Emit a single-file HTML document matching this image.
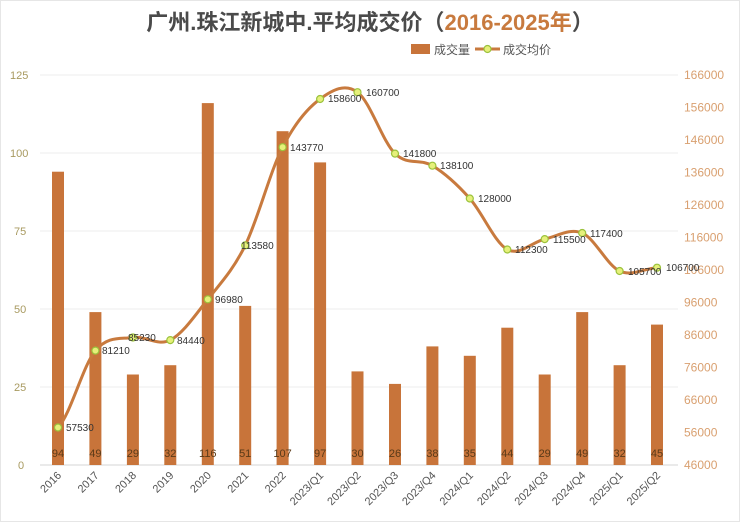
<!DOCTYPE html>
<html><head><meta charset="utf-8"><style>
html,body{margin:0;padding:0;background:#fff;}
svg{display:block;font-family:"Liberation Sans","Noto Sans CJK SC",sans-serif;}
</style></head><body>
<svg width="740" height="522" viewBox="0 0 740 522" xmlns="http://www.w3.org/2000/svg">
<rect x="0.5" y="0.5" width="739" height="521" fill="#fff" stroke="#e6e6e6"/>
<text x="370" y="30" text-anchor="middle" font-size="22" font-weight="bold" fill="#4a4a4a">广州.珠江新城中.平均成交价（<tspan fill="#c87a3e">2016-2025年</tspan>）</text>
<rect x="411" y="44" width="19" height="10" fill="#c8743a"/>
<text x="434" y="54" font-size="12" fill="#555">成交量</text>
<line x1="475" y1="49" x2="500" y2="49" stroke="#c87a3e" stroke-width="3"/>
<circle cx="487.5" cy="49" r="3.5" fill="#e6f07a" stroke="#9bc23c" stroke-width="1.2"/>
<text x="503" y="54" font-size="12" fill="#555">成交均价</text>
<g stroke="#ececec" stroke-width="1">
<line x1="40" y1="75" x2="678" y2="75"/><line x1="40" y1="153" x2="678" y2="153"/>
<line x1="40" y1="231" x2="678" y2="231"/><line x1="40" y1="309" x2="678" y2="309"/>
<line x1="40" y1="387" x2="678" y2="387"/>
</g>
<line x1="40" y1="465" x2="678" y2="465" stroke="#d6d6d6"/>
<g font-size="11" fill="#a89a60">
<text x="10" y="79">125</text><text x="10" y="157">100</text><text x="14" y="235">75</text>
<text x="14" y="313">50</text><text x="14" y="391">25</text><text x="18" y="469">0</text>
</g>
<g font-size="12" fill="#d9a070">
<text x="684" y="79">166000</text><text x="684" y="111.5">156000</text><text x="684" y="144">146000</text>
<text x="684" y="176.5">136000</text><text x="684" y="209">126000</text><text x="684" y="241.5">116000</text>
<text x="684" y="274">106000</text><text x="684" y="306.5">96000</text><text x="684" y="339">86000</text>
<text x="684" y="371.5">76000</text><text x="684" y="404">66000</text><text x="684" y="436.5">56000</text>
<text x="684" y="469">46000</text>
</g>
<g fill="#c8743a">
<rect x="52" y="171.7" width="12" height="293.3"/>
<rect x="89.4" y="312.1" width="12" height="152.9"/>
<rect x="126.9" y="374.5" width="12" height="90.5"/>
<rect x="164.3" y="365.2" width="12" height="99.8"/>
<rect x="201.8" y="103.1" width="12" height="361.9"/>
<rect x="239.2" y="305.9" width="12" height="159.1"/>
<rect x="276.6" y="131.2" width="12" height="333.8"/>
<rect x="314.1" y="162.4" width="12" height="302.6"/>
<rect x="351.5" y="371.4" width="12" height="93.6"/>
<rect x="389" y="383.9" width="12" height="81.1"/>
<rect x="426.4" y="346.4" width="12" height="118.6"/>
<rect x="463.8" y="355.8" width="12" height="109.2"/>
<rect x="501.3" y="327.7" width="12" height="137.3"/>
<rect x="538.7" y="374.5" width="12" height="90.5"/>
<rect x="576.2" y="312.1" width="12" height="152.9"/>
<rect x="613.6" y="365.2" width="12" height="99.8"/>
<rect x="651" y="324.6" width="12" height="140.4"/>
</g>
<g font-size="11" fill="#5a3a18" text-anchor="middle">
<text x="58" y="457">94</text><text x="95.4" y="457">49</text><text x="132.9" y="457">29</text>
<text x="170.3" y="457">32</text><text x="207.8" y="457">116</text><text x="245.2" y="457">51</text>
<text x="282.6" y="457">107</text><text x="320.1" y="457">97</text><text x="357.5" y="457">30</text>
<text x="395" y="457">26</text><text x="432.4" y="457">38</text><text x="469.8" y="457">35</text>
<text x="507.3" y="457">44</text><text x="544.7" y="457">29</text><text x="582.2" y="457">49</text>
<text x="619.6" y="457">32</text><text x="657" y="457">45</text>
</g>
<path d="M58,427.5 C70.5,414.7 82.9,365.6 95.4,350.6 C107.9,335.6 120.4,339.25 132.9,337.5 C145.4,335.75 157.8,346.5 170.3,340.1 C182.8,333.7 195.3,315.1 207.8,299.3 C220.3,283.5 232.7,270.75 245.2,245.4 C257.7,220.05 270.1,171.6 282.6,147.2 C295.1,122.8 307.6,108.2 320.1,99 C332.6,89.8 345,83.1 357.5,92.2 C370,101.3 382.5,141.35 395,153.6 C407.5,165.85 419.9,158.2 432.4,165.7 C444.9,173.2 457.3,184.5 469.8,198.5 C482.3,212.5 494.8,242.7 507.3,249.5 C519.8,256.3 532.2,241.85 544.7,239.1 C557.2,236.35 569.7,227.7 582.2,233 C594.7,238.3 607.1,265.2 619.6,271 C632.1,276.8 644.5,268.25 657,267.7" fill="none" stroke="#c87a3e" stroke-width="3"/>
<g fill="#e6f07a" stroke="#9bc23c" stroke-width="1.2">
<circle cx="58" cy="427.5" r="3.5"/><circle cx="95.4" cy="350.6" r="3.5"/><circle cx="132.9" cy="337.5" r="3.5"/>
<circle cx="170.3" cy="340.1" r="3.5"/><circle cx="207.8" cy="299.3" r="3.5"/><circle cx="245.2" cy="245.4" r="3.5"/>
<circle cx="282.6" cy="147.2" r="3.5"/><circle cx="320.1" cy="99" r="3.5"/><circle cx="357.5" cy="92.2" r="3.5"/>
<circle cx="395" cy="153.6" r="3.5"/><circle cx="432.4" cy="165.7" r="3.5"/><circle cx="469.8" cy="198.5" r="3.5"/>
<circle cx="507.3" cy="249.5" r="3.5"/><circle cx="544.7" cy="239.1" r="3.5"/><circle cx="582.2" cy="233" r="3.5"/>
<circle cx="619.6" cy="271" r="3.5"/><circle cx="657" cy="267.7" r="3.5"/>
</g>
<g font-size="10" fill="#333">
<text x="66" y="431">57530</text><text x="102" y="354">81210</text><text x="128" y="341">85230</text>
<text x="177" y="344">84440</text><text x="215" y="303">96980</text><text x="241" y="249">113580</text>
<text x="290" y="151">143770</text><text x="328" y="102">158600</text><text x="366" y="96">160700</text>
<text x="403" y="157">141800</text><text x="440" y="169">138100</text><text x="478" y="202">128000</text>
<text x="515" y="253">112300</text><text x="553" y="243">115500</text><text x="590" y="237">117400</text>
<text x="628" y="275">105700</text><text x="666" y="271">106700</text>
</g>
<g font-size="11" fill="#555" text-anchor="end">
<text transform="translate(62,476) rotate(-45)">2016</text>
<text transform="translate(99.4,476) rotate(-45)">2017</text>
<text transform="translate(136.9,476) rotate(-45)">2018</text>
<text transform="translate(174.3,476) rotate(-45)">2019</text>
<text transform="translate(211.8,476) rotate(-45)">2020</text>
<text transform="translate(249.2,476) rotate(-45)">2021</text>
<text transform="translate(286.6,476) rotate(-45)">2022</text>
<text transform="translate(324.1,476) rotate(-45)">2023/Q1</text>
<text transform="translate(361.5,476) rotate(-45)">2023/Q2</text>
<text transform="translate(399,476) rotate(-45)">2023/Q3</text>
<text transform="translate(436.4,476) rotate(-45)">2023/Q4</text>
<text transform="translate(473.8,476) rotate(-45)">2024/Q1</text>
<text transform="translate(511.3,476) rotate(-45)">2024/Q2</text>
<text transform="translate(548.7,476) rotate(-45)">2024/Q3</text>
<text transform="translate(586.2,476) rotate(-45)">2024/Q4</text>
<text transform="translate(623.6,476) rotate(-45)">2025/Q1</text>
<text transform="translate(661,476) rotate(-45)">2025/Q2</text>
</g>
</svg>
</body></html>
